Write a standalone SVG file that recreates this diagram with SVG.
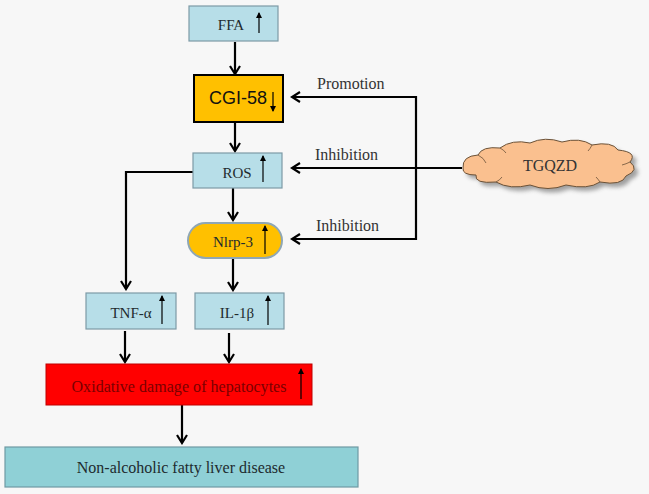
<svg xmlns="http://www.w3.org/2000/svg" width="649" height="494" viewBox="0 0 649 494">
<style>
.t{font-family:"Liberation Serif","Times New Roman",serif;font-size:15px;fill:#1e2b2e}
.lbl{font-family:"Liberation Serif","Times New Roman",serif;font-size:16px;fill:#333}
.box{fill:#B7DEE8;stroke:#7d9aa6;stroke-width:1.2}
.con{fill:none;stroke:#000;stroke-width:2.2}
.up{stroke:#000;stroke-width:1.2;fill:none}
</style>
<defs>
<marker id="ah" viewBox="0 0 12 12" refX="10" refY="6" markerWidth="12" markerHeight="12" markerUnits="userSpaceOnUse" orient="auto">
<path d="M2,1 L10,6 L2,11" fill="none" stroke="#000" stroke-width="2.2"/>
</marker>
<marker id="sm" viewBox="0 0 6 8" refX="5" refY="4" markerWidth="6" markerHeight="8" markerUnits="userSpaceOnUse" orient="auto">
<path d="M0,1 L6,4 L0,7 Z" fill="#000"/>
</marker>
<filter id="sh" x="-10%" y="-20%" width="130%" height="150%">
<feGaussianBlur stdDeviation="2"/>
</filter>
</defs>
<rect x="0" y="0" width="649" height="494" fill="#F7F7F7"/>

<g id="connectors">
<path class="con" d="M235,42 V74" marker-end="url(#ah)"/>
<path class="con" d="M235,122 V151" marker-end="url(#ah)"/>
<path class="con" d="M233,188 V220" marker-end="url(#ah)"/>
<path class="con" d="M193,172 H126 V289" marker-end="url(#ah)"/>
<path class="con" d="M233,258 V290" marker-end="url(#ah)"/>
<path class="con" d="M125,331 V362" marker-end="url(#ah)"/>
<path class="con" d="M229,333 V362" marker-end="url(#ah)"/>
<path class="con" d="M182,405 V443" marker-end="url(#ah)"/>
<path class="con" d="M462,168 H292" marker-end="url(#ah)"/>
<path class="con" d="M416,97 H292" marker-end="url(#ah)"/>
<path class="con" d="M416,96 V239 H292" marker-end="url(#ah)"/>
<text class="lbl" x="317" y="89">Promotion</text>
<text class="lbl" x="315" y="160">Inhibition</text>
<text class="lbl" x="316" y="231">Inhibition</text>
</g>

<g id="ffa">
<rect class="box" x="189" y="6" width="89" height="35"/>
<text class="t" x="231" y="30" text-anchor="middle">FFA</text>
<path class="up" d="M259,33 V13" marker-end="url(#sm)"/>
</g>

<g id="cgi58">
<rect x="194" y="75" width="89" height="47" fill="#FFC000" stroke="#000" stroke-width="2"/>
<text x="238" y="104" text-anchor="middle" font-family="'Liberation Sans',Arial,sans-serif" font-size="18" fill="#111">CGI-58</text>
<path class="up" d="M273,92 V111" marker-end="url(#sm)"/>
</g>

<g id="ros">
<rect class="box" x="193" y="153" width="89" height="35"/>
<text class="t" x="237" y="178" text-anchor="middle">ROS</text>
<path class="up" d="M263,182 V156" marker-end="url(#sm)"/>
</g>

<g id="nlrp3">
<rect x="188" y="223" width="94" height="35" rx="17.5" fill="#FFC000" stroke="#8FA7B5" stroke-width="2"/>
<text class="t" x="233" y="247" text-anchor="middle">Nlrp-3</text>
<path class="up" d="M265,254 V226" marker-end="url(#sm)"/>
</g>

<g id="tgqzd">
<path d="M467,172 Q466,160 482,159 Q486,150 504,152 Q516,143 534,147 Q549,140 566,146 Q584,141 596,149 Q616,145 622,154 Q642,156 634,166 Q644,174 630,180 Q626,190 604,186 Q592,194 570,189 Q552,196 534,189 Q514,194 500,186 Q478,188 480,179 Q466,179 467,172 Z" fill="#7a7a7a" opacity="0.7" filter="url(#sh)"/>
<path d="M463,168 Q462,156 478,155 Q482,146 500,148 Q512,139 530,143 Q545,136 562,142 Q580,137 592,145 Q612,141 618,150 Q638,152 630,162 Q640,170 626,176 Q622,186 600,182 Q588,190 566,185 Q548,192 530,185 Q510,190 496,182 Q474,184 476,175 Q462,175 463,168 Z" fill="#FAC08F" stroke="#6b5238" stroke-width="1"/>
<path d="M478,155 Q484,158 486,163 M500,148 Q504,150 506,153 M592,145 Q590,149 588,151 M630,162 Q626,164 622,165 M600,182 Q598,179 596,177 M496,182 Q500,180 502,177" fill="none" stroke="#6b5238" stroke-width="0.8"/>
<text x="550" y="171" text-anchor="middle" font-family="'Liberation Serif','Times New Roman',serif" font-size="16" fill="#333">TGQZD</text>
</g>

<g id="tnfa">
<rect class="box" x="86" y="293" width="90" height="36"/>
<text class="t" x="131" y="318" text-anchor="middle">TNF-α</text>
<path class="up" d="M162,324 V296" marker-end="url(#sm)"/>
</g>

<g id="il1b">
<rect class="box" x="195" y="293" width="89" height="36"/>
<text class="t" x="237" y="318" text-anchor="middle">IL-1β</text>
<path class="up" d="M268,325 V296" marker-end="url(#sm)"/>
</g>

<g id="oxidative">
<rect x="46" y="364" width="266" height="41" fill="#FF0000" stroke="#c00000" stroke-width="1"/>
<text x="179" y="392" text-anchor="middle" font-family="'Liberation Serif','Times New Roman',serif" font-size="16" fill="#7a0000" textLength="215" lengthAdjust="spacing">Oxidative damage of hepatocytes</text>
<path class="up" d="M301,399 V369" marker-end="url(#sm)"/>
</g>

<g id="nafld">
<rect x="5" y="447" width="353" height="40" fill="#8FD0D6" stroke="#6f9aa3" stroke-width="1.2"/>
<text class="t" x="181" y="473" text-anchor="middle" font-size="16" style="font-size:16px">Non-alcoholic fatty liver disease</text>
</g>
</svg>
